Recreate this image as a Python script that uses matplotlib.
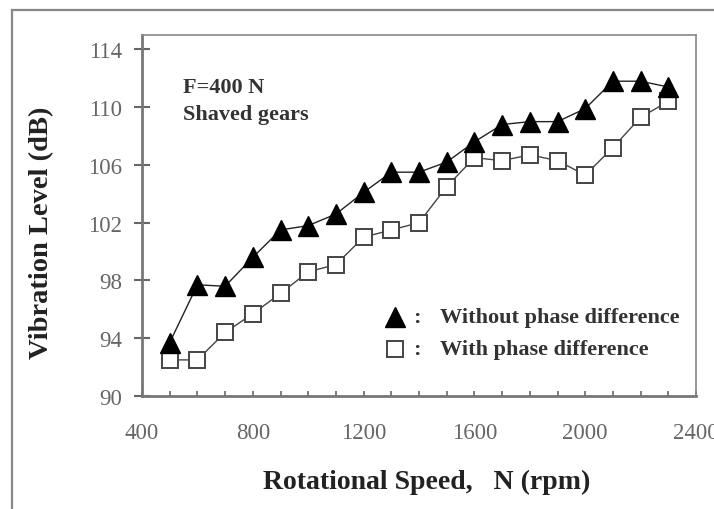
import numpy as np
import matplotlib
matplotlib.use("Agg")
import matplotlib.pyplot as plt
from matplotlib.patches import Rectangle

# speeds in rpm
speed = [500, 600, 700, 800, 900, 1000, 1100, 1200, 1300, 1400, 1500,
         1600, 1700, 1800, 1900, 2000, 2100, 2200, 2300]
# vibration level (dB)
without_phase = [93.7, 97.7, 97.6, 99.6, 101.5, 101.8, 102.6, 104.1, 105.5, 105.5, 106.2,
                 107.6, 108.8, 109.0, 109.0, 109.9, 111.8, 111.8, 111.4]
with_phase = [92.5, 92.5, 94.4, 95.7, 97.1, 98.6, 99.1, 101.0, 101.5, 102.0, 104.5,
              106.5, 106.3, 106.7, 106.3, 105.3, 107.2, 109.3, 110.4]

x_ticks = [400, 800, 1200, 1600, 2000, 2400]
y_ticks = [90, 94, 98, 102, 106, 110, 114]

plt.rcParams["font.family"] = ["Liberation Serif", "DejaVu Serif"]

fig = plt.figure(figsize=(7.14, 5.10), dpi=100)
ax = fig.add_axes([142 / 714, 1 - 397 / 510, (696 - 142) / 714, (397 - 36) / 510])

# outer frame of the scanned figure
fig.patches.append(Rectangle((12 / 714, -0.1), 1.2, 1.1 - 11 / 510, transform=fig.transFigure,
                             fill=False, edgecolor="#888888", linewidth=1.6))

ax.plot(speed, without_phase, color="#222222", linewidth=1.0, marker="^", markersize=15,
        markerfacecolor="black", markeredgecolor="black", zorder=3)
ax.plot(speed, with_phase, color="#444444", linewidth=1.0, marker="s", markersize=11,
        markerfacecolor="white", markeredgecolor="#444444", markeredgewidth=1.4, zorder=2)

ax.set_xlim(400, 2400)
ax.set_ylim(90, 115)
ax.set_xticks(x_ticks)
ax.set_xticks(np.arange(400, 2401, 100), minor=True)
ax.set_yticks(y_ticks)

for side in ["left", "bottom"]:
    ax.spines[side].set_color("#777777")
    ax.spines[side].set_linewidth(2.0)
for side in ["top", "right"]:
    ax.spines[side].set_color("#888888")
    ax.spines[side].set_linewidth(1.2)

ax.tick_params(axis="y", direction="inout", length=11.5, width=1.5, color="#666666",
               labelsize=16.5, labelcolor="#666666", pad=8.5)
ax.tick_params(axis="x", which="both", direction="in", length=3.5, width=1.2, color="#666666",
               labelsize=16.5, labelcolor="#666666", pad=19)

ax.set_xlabel("Rotational Speed,   N (rpm)", fontsize=20, fontweight="bold", color="#222222",
              va="center")
ax.xaxis.set_label_coords(0.513, -0.238)
ax.set_ylabel("Vibration Level (dB)", fontsize=20.5, fontweight="bold", color="#222222",
              va="center")
ax.yaxis.set_label_coords(-0.181, 0.454)

ax.text(0.074, 0.856, "F=400 N", transform=ax.transAxes, fontsize=16,
        fontweight="bold", color="#333333", va="center")
ax.text(0.074, 0.781, "Shaved gears", transform=ax.transAxes, fontsize=16,
        fontweight="bold", color="#333333", va="center")

# legend drawn as in the original: marker, colon, text
ax.plot([0.457], [0.22], transform=ax.transAxes, marker="^", markersize=15, color="black",
        linestyle="none", clip_on=False)
ax.plot([0.457], [0.131], transform=ax.transAxes, marker="s", markersize=11,
        markerfacecolor="white", markeredgecolor="#444444", markeredgewidth=1.4,
        linestyle="none", clip_on=False)
for yy in [0.22, 0.131]:
    ax.text(0.497, yy, ":", transform=ax.transAxes, fontsize=16, fontweight="bold",
            color="#333333", va="center", ha="center")
ax.text(0.538, 0.22, "Without phase difference", transform=ax.transAxes, fontsize=16,
        fontweight="bold", color="#333333", va="center")
ax.text(0.538, 0.131, "With phase difference", transform=ax.transAxes, fontsize=16,
        fontweight="bold", color="#333333", va="center")

fig.savefig("out.png", dpi=100)
